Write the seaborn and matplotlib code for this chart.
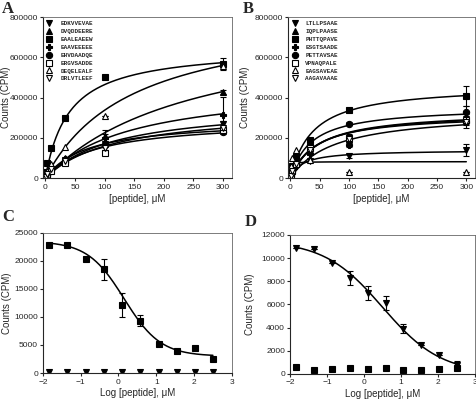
"""
Binding curves (A, B) and competition curves (C, D) for peptide panels.
"""
import numpy as np
import pandas as pd
import matplotlib
matplotlib.use("Agg")
import matplotlib.pyplot as plt
import seaborn as sns

# ---- data -------------------------------------------------------------
conc = [0, 1, 3, 10, 33, 100, 300]

# panel A: name, marker, filled, values, error at 100 / 300, fit (Vmax, Km)
a_names = ["EDKVVEVAE", "DVQDDEERE", "EAALEAEEW", "EAAVEEEEE",
           "EHVDAADQE", "ERGVSADDE", "DEQELEALF", "DRLVTLEEF"]
a_markers = ["v", "^", "s", "P", "o", "s", "^", "v"]
a_filled = [True, True, True, True, True, False, False, False]
a_values = [
    [0, 8000, 20000, 45000, 90000, 170000, 270000],
    [0, 10000, 25000, 55000, 100000, 210000, 430000],
    [0, 30000, 75000, 150000, 300000, 500000, 565000],
    [0, 9000, 22000, 50000, 95000, 200000, 315000],
    [0, 7000, 18000, 40000, 80000, 165000, 230000],
    [0, 6000, 16000, 38000, 75000, 125000, 240000],
    [0, 15000, 35000, 70000, 155000, 310000, 555000],
    [0, 8000, 20000, 45000, 85000, 150000, 250000],
]
a_err100 = [10000, 8000, 0, 40000, 10000, 10000, 0, 10000]
a_err300 = [15000, 10000, 30000, 90000, 10000, 15000, 0, 10000]
a_vmax = [369000, 790000, 650000, 470000, 291000, 290000, 836000, 345000]
a_km = [117, 251, 40, 141, 71, 87, 148, 117]

# panel B
b_names = ["LTLLPSAAE", "IQPLPAASE", "PHTTQPAVE", "ESGTSAADE",
           "PETTAVSAE", "VPNAQPALE", "EAGSAVEAE", "AAGAVAAAE"]
b_markers = ["v", "^", "s", "P", "o", "s", "^", "v"]
b_filled = [True, True, True, True, True, False, False, False]
b_values = [
    [0, 15000, 40000, 65000, 85000, 110000, 140000],
    [0, 15000, 40000, 80000, 140000, 195000, 300000],
    [0, 25000, 60000, 110000, 190000, 340000, 410000],
    [0, 10000, 30000, 60000, 120000, 165000, 280000],
    [0, 20000, 50000, 100000, 165000, 270000, 330000],
    [0, 12000, 35000, 70000, 150000, 200000, 290000],
    [0, 60000, 100000, 140000, 90000, 30000, 30000],
    [0, 12000, 35000, 70000, 140000, 195000, 280000],
]
b_err100 = [8000, 10000, 10000, 10000, 8000, 20000, 0, 20000]
b_err300 = [30000, 20000, 50000, 15000, 30000, 20000, 0, 30000]
b_vmax = [140000, 329000, 462000, 331000, 355000, 335000, 82000, 319000]
b_km = [20, 46, 38, 74, 35, 47, 1, 42]

# panels C, D: log concentrations
log_conc = [-1.83, -1.35, -0.87, -0.38, 0.10, 0.58, 1.06, 1.54, 2.02, 2.50]
c_squares = [22800, 22900, 20400, 18500, 12100, 9300, 5200, 4000, 4400, 2500]
c_squares_err = [0, 0, 0, 1900, 2100, 1000, 0, 0, 0, 0]
c_triangles = [200, 150, 100, 150, 100, 250, 100, 100, 200, 100]
c_fit = dict(bottom=3000, top=23500, logic50=0.15, hill=0.9)

d_triangles = [10900, 10800, 9600, 8300, 7000, 6100, 3900, 2500, 1600, 800]
d_triangles_err = [0, 0, 0, 600, 600, 600, 400, 0, 0, 300]
d_squares = [600, 350, 400, 500, 400, 500, 300, 350, 450, 500]
d_fit = dict(bottom=0, top=11500, logic50=0.5, hill=0.55)

# ---- style ------------------------------------------------------------
sns.set_style("ticks")
plt.rcParams["font.family"] = ["Liberation Sans", "DejaVu Sans"]
plt.rcParams.update({"font.size": 6.0, "axes.labelsize": 7,
                     "axes.linewidth": 0.8,
                     "xtick.major.size": 2.5, "ytick.major.size": 2.5,
                     "xtick.major.width": 0.8, "ytick.major.width": 0.8,
                     "xtick.major.pad": 1.5, "ytick.major.pad": 1.0,
                     "legend.numpoints": 1})

fig = plt.figure(figsize=(4.77, 4.05), dpi=100)
ax_a = fig.add_axes([0.090, 0.560, 0.396, 0.398])
ax_b = fig.add_axes([0.604, 0.560, 0.392, 0.398])
ax_c = fig.add_axes([0.090, 0.079, 0.396, 0.346])
ax_d = fig.add_axes([0.608, 0.077, 0.388, 0.343])


def marker_kw(marker, filled):
    return dict(marker=marker, markersize=4.5 if marker != "P" else 5,
                markerfacecolor="black" if filled else "white",
                markeredgecolor="black", markeredgewidth=0.8,
                linestyle="none")


def binding_panel(ax, names, markers, filled, values, err100, err300, vmax, km):
    xs = np.linspace(0, 300, 300)
    curves = pd.concat([
        pd.DataFrame({"x": xs, "y": v * xs / (k + xs), "name": n})
        for n, v, k in zip(names, vmax, km)])
    sns.lineplot(data=curves, x="x", y="y", units="name", estimator=None,
                 color="black", linewidth=1.1, ax=ax, legend=False)
    for n, m, f, vals, e1, e3 in zip(names, markers, filled, values, err100, err300):
        ax.errorbar([100, 300], [vals[5], vals[6]], yerr=[e1, e3], fmt="none",
                    ecolor="black", elinewidth=0.8, capsize=2.5, capthick=0.8)
        ax.plot(conc, vals, label=n, **marker_kw(m, f))
    ax.set_xlim(-4, 315)
    ax.set_ylim(0, 800000)
    ax.set_xticks([0, 50, 100, 150, 200, 250, 300])
    ax.set_yticks([0, 200000, 400000, 600000, 800000])
    ax.set_xlabel("[peptide], μM", labelpad=2)
    ax.set_ylabel("Counts (CPM)")
    ax.legend(loc="upper left", frameon=False, numpoints=1,
              handlelength=0.8, handletextpad=1.4, labelspacing=0.45,
              borderaxespad=0.3, prop={"family": "Liberation Mono",
                                        "weight": "bold", "size": 4.3})


def sigmoid(x, bottom, top, logic50, hill):
    return bottom + (top - bottom) / (1 + 10 ** (hill * (x - logic50)))


binding_panel(ax_a, a_names, a_markers, a_filled, a_values,
              a_err100, a_err300, a_vmax, a_km)
binding_panel(ax_b, b_names, b_markers, b_filled, b_values,
              b_err100, b_err300, b_vmax, b_km)

xs_log = np.linspace(-1.83, 2.5, 200)

# panel C
sns.lineplot(x=xs_log, y=sigmoid(xs_log, **c_fit), color="black",
             linewidth=1.1, ax=ax_c)
ax_c.errorbar(log_conc, c_squares, yerr=c_squares_err, fmt="none",
              ecolor="black", elinewidth=0.8, capsize=2.5, capthick=0.8)
ax_c.plot(log_conc, c_squares, **marker_kw("s", True))
ax_c.plot(log_conc, c_triangles, **marker_kw("v", True))
ax_c.set_xlim(-2, 3)
ax_c.set_ylim(0, 25000)
ax_c.set_yticks([0, 5000, 10000, 15000, 20000, 25000])

# panel D
sns.lineplot(x=xs_log, y=sigmoid(xs_log, **d_fit), color="black",
             linewidth=1.1, ax=ax_d)
ax_d.errorbar(log_conc, d_triangles, yerr=d_triangles_err, fmt="none",
              ecolor="black", elinewidth=0.8, capsize=2.5, capthick=0.8)
ax_d.plot(log_conc, d_triangles, **marker_kw("v", True))
ax_d.plot(log_conc, d_squares, **marker_kw("s", True))
ax_d.set_xlim(-2, 3)
ax_d.set_ylim(0, 12000)
ax_d.set_yticks([0, 2000, 4000, 6000, 8000, 10000, 12000])

for ax in (ax_c, ax_d):
    ax.set_xticks([-2, -1, 0, 1, 2, 3])
    ax.set_xlabel("Log [peptide], μM", labelpad=2)
    ax.set_ylabel("Counts (CPM)")

# y-label positions (axes fraction, right edge of the rotated text)
ax_a.yaxis.set_label_coords(-0.168, 0.5)
ax_b.yaxis.set_label_coords(-0.205, 0.5)
ax_c.yaxis.set_label_coords(-0.165, 0.5)
ax_d.yaxis.set_label_coords(-0.19, 0.5)

for ax in (ax_a, ax_b, ax_c, ax_d):
    for side in ("top", "right"):
        ax.spines[side].set_color("#666666")
        ax.spines[side].set_linewidth(0.6)

# panel letters
for txt, x, y in [("A", 0.004, 0.998), ("B", 0.510, 0.998),
                  ("C", 0.004, 0.485), ("D", 0.512, 0.472)]:
    fig.text(x, y, txt, ha="left", va="top", fontsize=12, fontweight="bold",
             family=["Liberation Serif", "DejaVu Serif"])

fig.savefig("out.png", dpi=100)
